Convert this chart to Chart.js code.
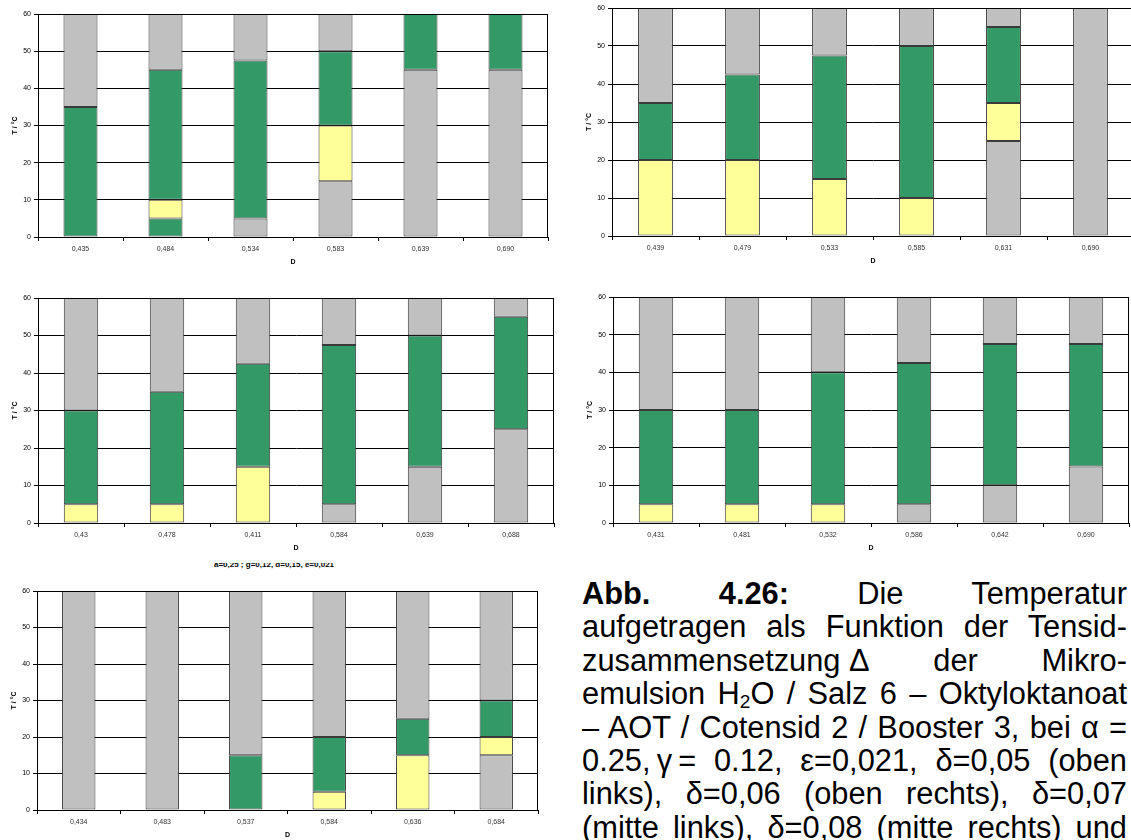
<!DOCTYPE html>
<html><head><meta charset="utf-8">
<script src="https://cdn.jsdelivr.net/npm/chart.js@4.4.1/dist/chart.umd.min.js"></script>
<style>
html,body{margin:0;padding:0;background:#fff;width:1131px;height:840px;overflow:hidden;position:relative;font-family:"Liberation Sans",Arial,sans-serif;}
canvas{position:absolute;}
.cap{position:absolute;left:582px;width:545px;top:577px;font-size:30.8px;line-height:33.4px;color:#000;}
.cap div{text-align:justify;text-align-last:justify;}
.cap sub{font-size:0.62em;vertical-align:-0.2em;line-height:0;}
.cap .nb{display:inline-block;}
.sub3{position:absolute;left:149px;width:250px;top:563px;height:7px;overflow:hidden;}
.sub3 span{position:absolute;left:0;width:250px;top:-2px;line-height:8px;text-align:center;font-size:8px;font-weight:bold;color:#000;white-space:nowrap;}
</style>
</head><body>
<canvas id="c1"></canvas>
<canvas id="c2"></canvas>
<canvas id="c3"></canvas>
<canvas id="c4"></canvas>
<canvas id="c5"></canvas>
<div class="sub3"><span>a=0,25 ; g=0,12, d=0,15, e=0,021</span></div>
<div class="cap">
<div><b>Abb.</b> <b>4.26:</b> Die Temperatur</div>
<div>aufgetragen als Funktion der Tensid-</div>
<div><span class="nb">zusammensetzung &Delta;</span> der Mikro-</div>
<div>emulsion H<sub>2</sub>O / Salz 6 &ndash; Oktyloktanoat</div>
<div>&ndash; AOT / Cotensid 2 / Booster 3, bei &alpha; =</div>
<div><span class="nb">0.25,&#8201;&gamma;&#8201;=</span> 0.12, &epsilon;=0,021, &delta;=0,05 (oben</div>
<div>links), &delta;=0,06 (oben rechts), &delta;=0,07</div>
<div>(mitte links), &delta;=0,08 (mitte rechts) und</div>
</div>
<script>
// ---------- DATA ----------
const Y_MIN = 0, Y_MAX = 60, Y_STEP = 10;

// Panel 1 (delta = 0,05)
const CAT_P1 = ['0,435','0,484','0,534','0,583','0,639','0,690'];
const GRAY_LOW_P1   = [null, null, [0,5], [0,15], [0,45], [0,45]];
const GREEN_LOW_P1  = [null, [0,5], null, null, null, null];
const YELLOW_P1     = [null, [5,10], null, [15,30], null, null];
const GREEN_P1      = [[0,35], [10,45], [5,47.5], [30,50], [45,60], [45,60]];
const GRAY_HIGH_P1  = [[35,60], [45,60], [47.5,60], [50,60], null, null];

// Panel 2 (delta = 0,06)
const CAT_P2 = ['0,439','0,479','0,533','0,585','0,631','0,690'];
const GRAY_LOW_P2   = [null, null, null, null, [0,25], [0,60]];
const GREEN_LOW_P2  = [null, null, null, null, null, null];
const YELLOW_P2     = [[0,20], [0,20], [0,15], [0,10], [25,35], null];
const GREEN_P2      = [[20,35], [20,42.5], [15,47.5], [10,50], [35,55], null];
const GRAY_HIGH_P2  = [[35,60], [42.5,60], [47.5,60], [50,60], [55,60], null];

// Panel 3 (delta = 0,07)
const CAT_P3 = ['0,43','0,478','0,411','0,584','0,639','0,688'];
const GRAY_LOW_P3   = [null, null, null, [0,5], [0,15], [0,25]];
const GREEN_LOW_P3  = [null, null, null, null, null, null];
const YELLOW_P3     = [[0,5], [0,5], [0,15], null, null, null];
const GREEN_P3      = [[5,30], [5,35], [15,42.5], [5,47.5], [15,50], [25,55]];
const GRAY_HIGH_P3  = [[30,60], [35,60], [42.5,60], [47.5,60], [50,60], [55,60]];

// Panel 4 (delta = 0,08)
const CAT_P4 = ['0,431','0,481','0,532','0,586','0,642','0,690'];
const GRAY_LOW_P4   = [null, null, null, [0,5], [0,10], [0,15]];
const GREEN_LOW_P4  = [null, null, null, null, null, null];
const YELLOW_P4     = [[0,5], [0,5], [0,5], null, null, null];
const GREEN_P4      = [[5,30], [5,30], [5,40], [5,42.5], [10,47.5], [15,47.5]];
const GRAY_HIGH_P4  = [[30,60], [30,60], [40,60], [42.5,60], [47.5,60], [47.5,60]];

// Panel 5
const CAT_P5 = ['0,434','0,483','0,537','0,584','0,636','0,684'];
const GRAY_LOW_P5   = [[0,60], [0,60], null, null, null, [0,15]];
const GREEN_LOW_P5  = [null, null, null, null, null, null];
const YELLOW_P5     = [null, null, null, [0,5], [0,15], [15,20]];
const GREEN_P5      = [null, null, [0,15], [5,20], [15,25], [20,30]];
const GRAY_HIGH_P5  = [null, null, [15,60], [20,60], [25,60], [30,60]];

const X_TITLE = 'D';
const Y_TITLE = 'T / \u00B0C';

// ---------- STYLE / LAYOUT ----------
const GRAY = '#C0C0C0', GREEN = '#339966', YELLOW = '#FFFF99';
const FONT = '"Liberation Sans", Arial, sans-serif';
const AXIS_W = 38, XAXIS_H = 30, PAD_T = 8, PAD_R = 2;

const frame = {
  id: 'frame',
  afterDatasetsDraw(c) {
    const a = c.chartArea, ctx = c.ctx;
    ctx.save();
    ctx.strokeStyle = '#000'; ctx.lineWidth = 1;
    ctx.beginPath();
    const t = Math.round(a.top) + 0.5, r = Math.round(a.right) - 0.5;
    ctx.moveTo(a.left, t); ctx.lineTo(r, t); ctx.lineTo(r, a.bottom);
    ctx.stroke();
    ctx.restore();
  }
};

function makeChart(id, g, cats, grayLow, greenLow, yellow, green, grayHigh) {
  const cv = document.getElementById(id);
  const W = AXIS_W + (g.right - g.left) + PAD_R;
  const H = PAD_T + (g.bottom - g.top) + XAXIS_H;
  cv.width = W; cv.height = H;
  cv.style.width = W + 'px'; cv.style.height = H + 'px';
  cv.style.left = (g.left - AXIS_W) + 'px';
  cv.style.top = (g.top - PAD_T) + 'px';
  const layers = [
    {data: grayLow, color: GRAY},
    {data: greenLow, color: GREEN},
    {data: yellow, color: YELLOW},
    {data: green, color: GREEN},
    {data: grayHigh, color: GRAY}
  ];
  new Chart(cv, {
    type: 'bar',
    data: {
      labels: cats,
      datasets: layers.map(l => ({
        data: l.data,
        backgroundColor: l.color,
        borderColor: '#3a3a3a',
        borderWidth: 1,
        borderSkipped: false,
        grouped: false,
        barPercentage: 0.4,
        categoryPercentage: 1.0
      }))
    },
    options: {
      responsive: false,
      animation: false,
      devicePixelRatio: 1,
      layout: {padding: {top: PAD_T, right: PAD_R, left: 0, bottom: 0}},
      plugins: {legend: {display: false}, tooltip: {enabled: false}},
      scales: {
        x: {
          offset: true,
          grid: {drawOnChartArea: false, drawTicks: true, tickLength: 4, color: '#000', offset: true},
          border: {display: true, color: '#000', width: 1},
          ticks: {font: {size: 7, family: FONT}, color: '#333', padding: 4, maxRotation: 0, autoSkip: false},
          title: {display: true, text: X_TITLE, font: {size: 7, weight: 'bold', family: FONT}, color: '#000', padding: {top: 0, bottom: 1}},
          afterFit(s) { s.height = XAXIS_H; }
        },
        y: {
          min: Y_MIN, max: Y_MAX,
          ticks: {stepSize: Y_STEP, font: {size: 7, family: FONT}, color: '#000', padding: 3},
          grid: {color: '#000', lineWidth: 1, tickLength: 4, drawTicks: true},
          border: {display: true, color: '#000', width: 1},
          title: {display: true, text: Y_TITLE, font: {size: 7, weight: 'bold', family: FONT}, color: '#000', padding: {top: 11, bottom: 0}},
          afterFit(s) { s.width = AXIS_W; }
        }
      }
    },
    plugins: [frame]
  });
}

makeChart('c1', {left: 38, right: 548, top: 14, bottom: 237}, CAT_P1, GRAY_LOW_P1, GREEN_LOW_P1, YELLOW_P1, GREEN_P1, GRAY_HIGH_P1);
makeChart('c2', {left: 612, right: 1134, top: 8, bottom: 236}, CAT_P2, GRAY_LOW_P2, GREEN_LOW_P2, YELLOW_P2, GREEN_P2, GRAY_HIGH_P2);
makeChart('c3', {left: 38, right: 554, top: 298, bottom: 523}, CAT_P3, GRAY_LOW_P3, GREEN_LOW_P3, YELLOW_P3, GREEN_P3, GRAY_HIGH_P3);
makeChart('c4', {left: 613, right: 1129, top: 297, bottom: 523}, CAT_P4, GRAY_LOW_P4, GREEN_LOW_P4, YELLOW_P4, GREEN_P4, GRAY_HIGH_P4);
makeChart('c5', {left: 37, right: 538, top: 591, bottom: 810}, CAT_P5, GRAY_LOW_P5, GREEN_LOW_P5, YELLOW_P5, GREEN_P5, GRAY_HIGH_P5);
</script>
</body></html>
